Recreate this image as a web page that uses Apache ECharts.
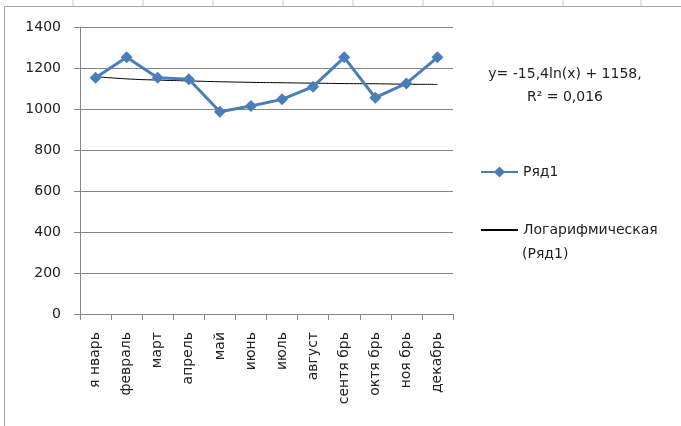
<!DOCTYPE html>
<html>
<head>
<meta charset="utf-8">
<script src="https://cdn.jsdelivr.net/npm/echarts@6/dist/echarts.min.js"></script>
<style>html,body{margin:0;padding:0;background:#fff;}#c{width:681px;height:426px;}</style>
</head>
<body>
<div id="c"></div>
<script>
const categories = ['я нварь','февраль','март','апрель','май','июнь','июль','август','сентя брь','октя брь','ноя брь','декабрь'];
const series1 = [1153, 1252, 1153, 1145, 987, 1015, 1047, 1109, 1252, 1055, 1125, 1252];
const trend = [1158, 1147, 1141, 1137, 1133, 1130, 1128, 1126, 1124, 1123, 1121, 1120];
const yTicks = [0, 200, 400, 600, 800, 1000, 1200, 1400];
const equationLines = ['y= -15,4ln(x) + 1158,', 'R² = 0,016'];

const chart = echarts.init(document.getElementById('c'));
const font = '"DejaVu Sans", "Liberation Sans", Arial, sans-serif';
const bgLines = [];
[73,143,213,283,353,423,493,563,641].forEach(x => {
  bgLines.push({type:'line', shape:{x1:x,y1:0,x2:x,y2:6}, style:{stroke:'#c8c8c8', lineWidth:1}, silent:true});
});
chart.setOption({
  animation: false,
  grid: {left: 80, top: 27, right: 228, bottom: 112, containLabel: false},
  xAxis: {
    type: 'category', data: categories, boundaryGap: true,
    axisLine: {lineStyle: {color: '#868686'}},
    axisTick: {show: true, alignWithLabel: false, length: 6, lineStyle: {color: '#868686'}},
    axisLabel: {rotate: 90, interval: 0, color: '#222', fontFamily: font, fontSize: 14, margin: 18}
  },
  yAxis: {
    type: 'value', min: yTicks[0], max: yTicks[yTicks.length-1], interval: 200,
    axisLine: {show: true, lineStyle: {color: '#868686'}},
    axisTick: {show: true, inside: false, length: 6, lineStyle: {color: '#868686'}},
    axisLabel: {color: '#222', fontFamily: font, fontSize: 14, margin: 19, formatter: function(v){ return String(v); }},
    splitLine: {lineStyle: {color: '#868686', width: 1}}
  },
  legend: {
    orient: 'vertical', left: 480, top: 165, padding: 0, itemGap: 44, itemWidth: 37, itemHeight: 14,
    textStyle: {color: '#222', fontFamily: font, fontSize: 14},
    formatter: function(n){ return n === 'Логарифмическая (Ряд1)' ? 'Логарифмическая' : n; },
    data: [{name: 'Ряд1'}, {name: 'Логарифмическая (Ряд1)', itemStyle: {opacity: 0}}]
  },
  series: [
    {
      name: 'Ряд1', type: 'line', data: series1,
      symbol: 'diamond', symbolSize: 12,
      lineStyle: {color: '#4A7EBB', width: 3},
      itemStyle: {color: '#4A7EBB'},
      z: 3
    },
    {
      name: 'Логарифмическая (Ряд1)', type: 'line', data: trend,
      symbol: 'none', smooth: true,
      lineStyle: {color: '#000', width: 1},
      itemStyle: {color: '#000'},
      z: 2
    }
  ],
  graphic: [
    {type:'rect', shape:{x:4.5,y:6.5,width:700,height:500}, style:{fill:'none', stroke:'#a6a6a6', lineWidth:1}, silent:true},
    ...bgLines,
    {type:'text', style:{text: equationLines[0], x: 565, y: 74, align:'center', verticalAlign:'middle', fill:'#222', font: '14px ' + font}},
    {type:'text', style:{text: equationLines[1], x: 565, y: 97, align:'center', verticalAlign:'middle', fill:'#222', font: '14px ' + font}},
    {type:'text', style:{text: '(Ряд1)', x: 522, y: 254, align:'left', verticalAlign:'middle', fill:'#222', font: '14px ' + font}}
  ]
});
</script>
</body>
</html>
